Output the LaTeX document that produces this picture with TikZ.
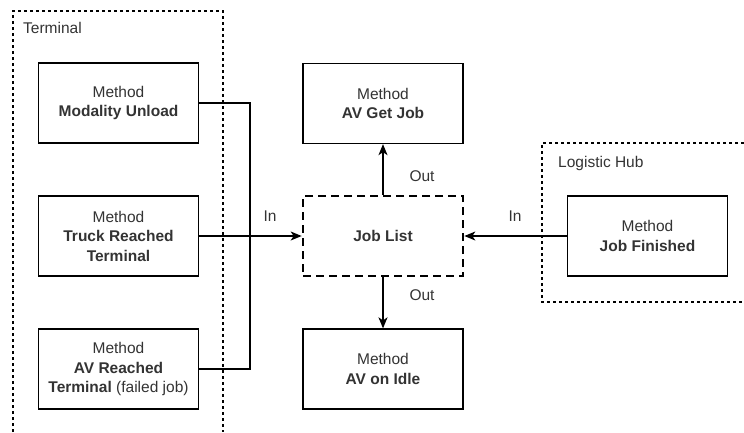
\documentclass[tikz,border=0pt]{standalone}
\usepackage{fontspec}
\setmainfont{Liberation Sans}
\usetikzlibrary{arrows.meta}
\definecolor{txt}{HTML}{333333}
\tikzset{
  method/.style={draw=black, line width=1.3pt, minimum width=160pt, minimum height=80pt,
    align=center, inner sep=2pt, text=txt, font=\fontsize{15.5}{19.5}\selectfont},
  joblist/.style={method, dash pattern=on 8pt off 5pt, line width=2.7pt},
  cont/.style={draw=black, line width=1.2pt, dash pattern=on 3pt off 3pt},
  conn/.style={draw=black, line width=1.3pt},
  arr/.style={conn, -{Stealth[length=11pt,width=9pt,inset=3pt]}},
  lbl/.style={text=txt, font=\fontsize{15.5}{19.5}\selectfont, inner sep=0pt},
}
\begin{document}
\begin{tikzpicture}[x=1pt,y=-1pt]
\useasboundingbox (0,0) rectangle (744,432);
% containers
\coordinate (t1) at (13,432);
\coordinate (t2) at (13,11);
\coordinate (t3) at (223,11);
\coordinate (t4) at (223,432);
\draw[cont] (t1) -- (t2) -- (t3) -- (t4);
\node[lbl, anchor=west] (tlab) at (23,28) {Terminal};
\coordinate (h1) at (744,143);
\coordinate (h2) at (542,143);
\coordinate (h3) at (542,302);
\coordinate (h4) at (744,302);
\draw[cont] (h1) -- (h2) -- (h3) -- (h4);
\node[lbl, anchor=west] (hlab) at (558,163) {Logistic Hub};
% nodes
\node[method] (mu) at (118.5,103) {Method\\\textbf{Modality Unload}};
\node[method] (tr) at (118.5,236) {Method\\\textbf{Truck Reached}\\\textbf{Terminal}};
\node[method] (av) at (118.5,369) {Method\\\textbf{AV Reached}\\\textbf{Terminal} (failed job)};
\node[joblist] (jl) at (383,236) {\textbf{Job List}};
\node[method] (gj) at (383,103.5) {Method\\\textbf{AV Get Job}};
\node[method] (ai) at (383,369) {Method\\\textbf{AV on Idle}};
\node[method] (jf) at (647.5,236) {Method\\\textbf{Job Finished}};
% connectors
\coordinate (j) at (250,236);
\draw[conn] (mu.east) -| (j);
\draw[conn] (av.east) -| (j);
\draw[arr] (tr.east) -- (jl.west);
\draw[arr] (jl.north) -- (gj.south);
\draw[arr] (jl.south) -- (ai.north);
\draw[arr] (jf.west) -- (jl.east);
% labels
\node[lbl] (in1) at (270,216) {In};
\node[lbl] (in2) at (515,216) {In};
\node[lbl] (out1) at (422,176) {Out};
\node[lbl] (out2) at (422,295) {Out};
\end{tikzpicture}
\end{document}
